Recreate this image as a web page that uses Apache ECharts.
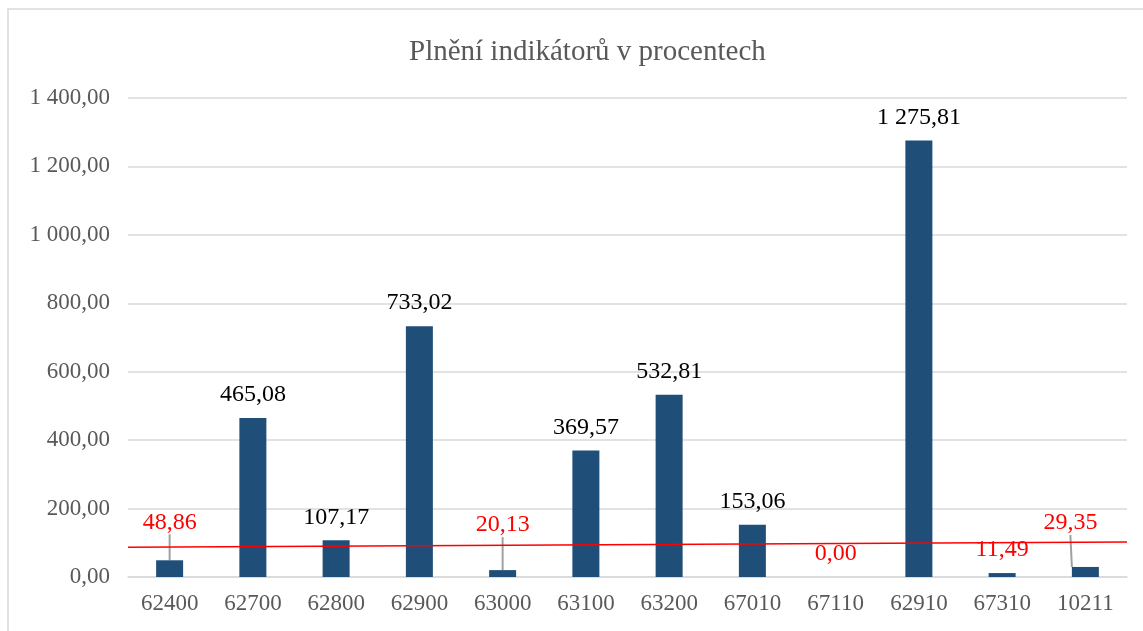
<!DOCTYPE html>
<html>
<head>
<meta charset="utf-8">
<script src="https://cdn.jsdelivr.net/npm/echarts@6/dist/echarts.min.js"></script>
<style>
  html, body { margin: 0; padding: 0; background: #fff; }
  #chart { width: 1143px; height: 631px; }
</style>
</head>
<body>
<div id="chart"></div>
<script>
// data
const categories = ['62400', '62700', '62800', '62900', '63000', '63100', '63200', '67010', '67110', '62910', '67310', '10211'];
const values = [48.86, 465.08, 107.17, 733.02, 20.13, 369.57, 532.81, 153.06, 0.00, 1275.81, 11.49, 29.35];
// red line, start and end value
const redLine = [[0, 87], [1, 102]];
const yTicks = { min: 0, max: 1400, interval: 200 };

const FONT = '"Liberation Serif", "Times New Roman", serif';

function fmt(v) {
  const parts = v.toFixed(2).split('.');
  parts[0] = parts[0].replace(/\B(?=(\d{3})+(?!\d))/g, ' ');
  return parts[0] + ',' + parts[1];
}

// labels that are moved up with a leader line
const moved = { 0: { dx: 0, dy: -15 }, 4: { dx: 0, dy: -22 }, 11: { dx: -15, dy: -21 } };

const chart = echarts.init(document.getElementById('chart'), null, { renderer: 'canvas' });

const option = {
  animation: false,
  backgroundColor: '#fff',
  title: {
    text: 'Plnění indikátorů v procentech',
    left: 404,
    top: 33,
    textStyle: { fontFamily: FONT, fontSize: 29, fontWeight: 'normal', color: '#595959' }
  },
  graphic: [{
    type: 'rect',
    shape: { x: 8, y: 9, width: 1160, height: 640 },
    style: { fill: 'none', stroke: '#d9d9d9', lineWidth: 1.5 },
    silent: true
  }],
  grid: { left: 128, right: 16, top: 98, bottom: 54 },
  xAxis: [{
    type: 'category',
    data: categories,
    axisLine: { show: true, lineStyle: { color: '#d9d9d9', width: 1.5 } },
    axisTick: { show: false },
    axisLabel: { fontFamily: FONT, fontSize: 23, color: '#595959', margin: 15 }
  }, {
    type: 'value',
    min: 0,
    max: 1,
    show: false
  }],
  yAxis: {
    type: 'value',
    min: yTicks.min,
    max: yTicks.max,
    interval: yTicks.interval,
    axisLine: { show: false },
    axisTick: { show: false },
    splitLine: { lineStyle: { color: '#d9d9d9', width: 1.5 } },
    axisLabel: { fontFamily: FONT, fontSize: 23, color: '#595959', margin: 18, formatter: fmt }
  },
  series: [{
    type: 'bar',
    barWidth: 27,
    itemStyle: { color: '#1f4e79' },
    data: values.map((v, i) => ({
      value: v,
      label: { color: v < 100 ? '#ff0000' : '#000000' },
      labelLine: { show: !!moved[i] }
    })),
    label: {
      show: true,
      position: 'top',
      distance: 11,
      fontFamily: FONT,
      fontSize: 24,
      formatter: p => fmt(p.value)
    },
    labelLine: { lineStyle: { color: '#a0a0a0', width: 2 } },
    labelLayout: p => moved[p.dataIndex] || {}
  }, {
    type: 'line',
    xAxisIndex: 1,
    data: redLine,
    symbol: 'none',
    lineStyle: { color: '#ff0000', width: 1.5 },
    silent: true,
    z: 3
  }]
};

chart.setOption(option);
</script>
</body>
</html>
